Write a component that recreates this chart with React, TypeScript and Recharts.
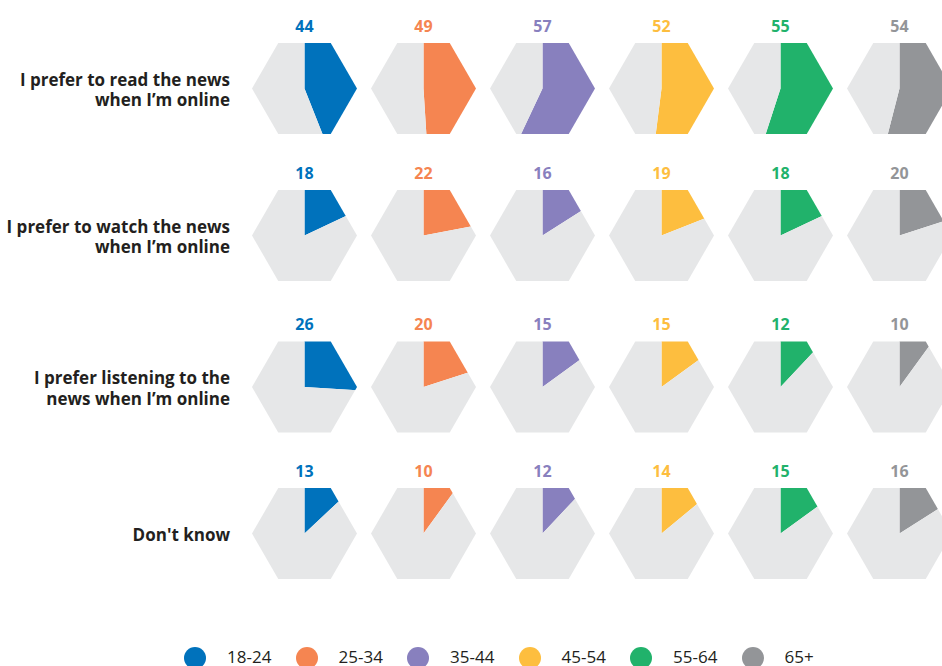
import { PieChart, Pie, Cell, Legend } from "recharts";

const AGES = ["18-24", "25-34", "35-44", "45-54", "55-64", "65+"];
const COLORS = ["#0072bc", "#f58551", "#8880be", "#fdbe3f", "#21b26b", "#939598"];

const STATEMENTS = [
  ["I prefer to read the news", "when I’m online"],
  ["I prefer to watch the news", "when I’m online"],
  ["I prefer listening to the", "news when I’m online"],
  ["Don't know"],
];

// % per statement, one array per age group
const AGE_18_24 = [44, 18, 26, 13];
const AGE_25_34 = [49, 22, 20, 10];
const AGE_35_44 = [57, 16, 15, 12];
const AGE_45_54 = [52, 19, 15, 14];
const AGE_55_64 = [55, 18, 12, 15];
const AGE_65_PLUS = [54, 20, 10, 16];
const SERIES = [AGE_18_24, AGE_25_34, AGE_35_44, AGE_45_54, AGE_55_64, AGE_65_PLUS];

const W = 942;
const H = 666;
const COL_X = 304.5;
const COL_STEP = 119;
const ROW_Y = [88.5, 235.5, 387, 533.5];
const HEX_R = 52.5;
const BG = "#e6e7e8";
const INK = "#231f20";
const SANS = "'Open Sans', sans-serif";

function hexPoints(cx: number, cy: number, r: number) {
  const pts: string[] = [];
  for (let k = 0; k < 6; k++) {
    const a = (Math.PI / 3) * k;
    pts.push(`${(cx + r * Math.cos(a)).toFixed(2)},${(cy + r * Math.sin(a)).toFixed(2)}`);
  }
  return pts.join(" ");
}

const cellId = (r: number, c: number) => `hx-${r}-${c}`;

function valueLabel(color: string, value: number) {
  return (props: any) => {
    if (props.index !== 0) return null;
    return (
      <text
        x={props.cx}
        y={props.cy - 57}
        textAnchor="middle"
        fill={color}
        fontSize={16}
        fontWeight={700}
        fontFamily={SANS}
      >
        {value}
      </text>
    );
  };
}

function AgeLegend() {
  return (
    <div style={{ position: "relative", width: W, height: 26 }}>
      {AGES.map((age, i) => (
        <div key={age}>
          <span
            style={{
              position: "absolute",
              left: 184.3 + i * 111.5,
              top: 7,
              width: 22,
              height: 22,
              borderRadius: "50%",
              background: COLORS[i],
            }}
          />
          <span
            style={{
              position: "absolute",
              left: 227 + i * 111.5,
              top: 7,
              fontFamily: SANS,
              fontSize: 17,
              lineHeight: "20px",
              color: INK,
            }}
          >
            {age}
          </span>
        </div>
      ))}
    </div>
  );
}

export default function App() {
  const css = ROW_Y.flatMap((_, r) =>
    AGES.map((__, c) => `.${cellId(r, c)} .recharts-sector { clip-path: url(#clip-${r}-${c}); }`)
  ).join("\n");

  return (
    <div style={{ position: "absolute", left: 0, top: 0, width: W, height: H, background: "#fff", overflow: "hidden" }}>
      <style>{css}</style>
      <svg width={0} height={0} style={{ position: "absolute" }}>
        <defs>
          {ROW_Y.map((cy, r) =>
            AGES.map((_, c) => (
              <clipPath key={`${r}-${c}`} id={`clip-${r}-${c}`} clipPathUnits="userSpaceOnUse">
                <polygon points={hexPoints(COL_X + c * COL_STEP, cy, HEX_R)} />
              </clipPath>
            ))
          )}
        </defs>
      </svg>
      <PieChart width={W} height={H} margin={{ top: 0, right: 0, bottom: 0, left: 0 }}>
        {ROW_Y.map((cy, r) =>
          SERIES.map((vals, c) => {
            const v = vals[r];
            const data = [
              { name: AGES[c], v },
              { name: "rest", v: 100 - v },
            ];
            return (
              <Pie
                key={cellId(r, c)}
                className={cellId(r, c)}
                data={data}
                dataKey="v"
                cx={COL_X + c * COL_STEP}
                cy={cy}
                innerRadius={0}
                outerRadius={62}
                startAngle={90}
                endAngle={-270}
                stroke="none"
                label={valueLabel(COLORS[c], v)}
                labelLine={false}
                isAnimationActive={false}
              >
                <Cell fill={COLORS[c]} />
                <Cell fill={BG} />
              </Pie>
            );
          })
        )}
        {STATEMENTS.map((lines, r) => (
          <text
            key={r}
            x={230}
            y={lines.length > 1 ? ROW_Y[r] - 3 : ROW_Y[r] + 7}
            textAnchor="end"
            fill={INK}
            fontSize={17}
            fontWeight={700}
            fontFamily={SANS}
          >
            {lines.map((ln, j) => (
              <tspan key={j} x={230} dy={j === 0 ? 0 : 20.5}>
                {ln}
              </tspan>
            ))}
          </text>
        ))}
        <Legend
          verticalAlign="bottom"
          content={() => <AgeLegend />}
          wrapperStyle={{ left: 0, top: 640, width: W, height: 26 }}
        />
      </PieChart>
    </div>
  );
}
